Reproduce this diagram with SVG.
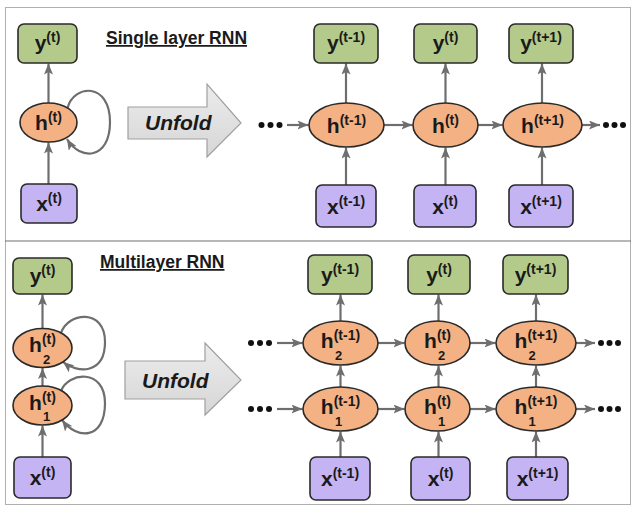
<svg xmlns="http://www.w3.org/2000/svg" width="641" height="514" viewBox="0 0 641 514">
<defs>
<marker id="ah" markerUnits="userSpaceOnUse" markerWidth="11" markerHeight="9" refX="11" refY="4.5" orient="auto">
<path d="M0,0 L11,4.5 L0,9 L2.5,4.5 z" fill="#6e6e6e"/>
</marker>
<linearGradient id="ug" x1="0" y1="0" x2="0" y2="1">
<stop offset="0" stop-color="#ececec"/>
<stop offset="1" stop-color="#d6d6d6"/>
</linearGradient>
</defs>
<style>
.by{fill:#b4ca8b;stroke:#2a2a2a;stroke-width:1.6}
.bx{fill:#c5b4f4;stroke:#2a2a2a;stroke-width:1.6}
.cell{fill:#f4b183;stroke:#2a2a2a;stroke-width:1.6}
.lbl{font-family:"Liberation Sans",Arial,sans-serif;font-weight:bold;font-size:21px;fill:#1a1a1a;text-anchor:middle}
.sup{font-size:14px}
.sub{font-family:"Liberation Sans",Arial,sans-serif;font-weight:bold;font-size:13px;fill:#1a1a1a}
.conn{stroke:#6e6e6e;stroke-width:2.2;fill:none;marker-end:url(#ah)}
.dot{fill:#111}
.title{font-family:"Liberation Sans",Arial,sans-serif;font-weight:bold;font-size:17.5px;fill:#1a1a1a;text-decoration:underline}
.unf{fill:url(#ug);stroke:#a0a0a0;stroke-width:1.2}
.unft{font-family:"Liberation Sans",Arial,sans-serif;font-weight:bold;font-style:italic;font-size:21px;fill:#1a1a1a}
</style>
<rect x="0" y="0" width="641" height="514" fill="#ffffff"/>
<rect x="5.5" y="7.5" width="625" height="497" fill="#ffffff" stroke="#b0b0b0" stroke-width="1"/>
<line x1="5" y1="241" x2="631" y2="241" stroke="#707070" stroke-width="1.2"/>

<!-- titles & unfold arrows -->
<text class="title" x="106" y="44">Single layer RNN</text>
<text class="title" x="100" y="268">Multilayer RNN</text>
<g id="unfold-top">
<polygon class="unf" points="128,107 207,107 207,84 241,123 207,157 207,139 128,139"/>
<text class="unft" x="145" y="130">Unfold</text>
</g>
<g id="unfold-bottom">
<polygon class="unf" points="125,361 205,361 205,343 241,380 205,415 205,399 125,399"/>
<text class="unft" x="142" y="388">Unfold</text>
</g>

<!-- connectors -->
<g id="connectors">
<!-- top left -->
<line class="conn" x1="48.5" y1="184" x2="48.5" y2="142.5"/>
<line class="conn" x1="48.5" y1="103" x2="48.5" y2="63.5"/>
<path class="conn" d="M67.5,108 C74,84 110,82 110,122 C110,160 80,161 67,139"/>
<!-- top right -->
<line class="conn" x1="346" y1="185" x2="346" y2="147.5"/>
<line class="conn" x1="346" y1="103" x2="346" y2="63.5"/>
<line class="conn" x1="445.5" y1="185" x2="445.5" y2="147.5"/>
<line class="conn" x1="445.5" y1="103" x2="445.5" y2="63.5"/>
<line class="conn" x1="542" y1="185" x2="542" y2="147.5"/>
<line class="conn" x1="542" y1="103" x2="542" y2="63.5"/>
<line class="conn" x1="287" y1="125" x2="308.5" y2="125"/>
<line class="conn" x1="384" y1="125" x2="412.5" y2="125"/>
<line class="conn" x1="478" y1="125" x2="502.5" y2="125"/>
<line class="conn" x1="582" y1="125" x2="600" y2="125"/>
<!-- bottom left -->
<line class="conn" x1="42.5" y1="457" x2="42.5" y2="425.5"/>
<line class="conn" x1="42.5" y1="386" x2="42.5" y2="368"/>
<line class="conn" x1="42.5" y1="328.5" x2="42.5" y2="294.5"/>
<path class="conn" d="M61,333 C68,312 105,308 105,342 C105,374 78,374 63,362"/>
<path class="conn" d="M61,391 C68,372 105,368 105,403 C105,440 77,440 62,420"/>
<!-- bottom right -->
<line class="conn" x1="340.5" y1="457" x2="340.5" y2="431.5"/>
<line class="conn" x1="340.5" y1="387" x2="340.5" y2="365.5"/>
<line class="conn" x1="340.5" y1="321" x2="340.5" y2="294.5"/>
<line class="conn" x1="438.5" y1="457" x2="438.5" y2="431.5"/>
<line class="conn" x1="438.5" y1="387" x2="438.5" y2="365.5"/>
<line class="conn" x1="438.5" y1="321" x2="438.5" y2="294.5"/>
<line class="conn" x1="536" y1="457" x2="536" y2="431.5"/>
<line class="conn" x1="536" y1="387" x2="536" y2="365.5"/>
<line class="conn" x1="536" y1="321" x2="536" y2="294.5"/>
<line class="conn" x1="277" y1="343" x2="302.5" y2="343"/>
<line class="conn" x1="378" y1="343" x2="404.5" y2="343"/>
<line class="conn" x1="470" y1="343" x2="495.5" y2="343"/>
<line class="conn" x1="576" y1="343" x2="595" y2="343"/>
<line class="conn" x1="277" y1="409" x2="302.5" y2="409"/>
<line class="conn" x1="378" y1="409" x2="404.5" y2="409"/>
<line class="conn" x1="470" y1="409" x2="495.5" y2="409"/>
<line class="conn" x1="576" y1="409" x2="595" y2="409"/>
</g>

<!-- dots -->
<g id="dots">
<circle class="dot" cx="261.5" cy="125" r="3"/><circle class="dot" cx="270.5" cy="125" r="3"/><circle class="dot" cx="279.5" cy="125" r="3"/>
<circle class="dot" cx="606" cy="125" r="3"/><circle class="dot" cx="614.5" cy="125" r="3"/><circle class="dot" cx="623" cy="125" r="3"/>
<circle class="dot" cx="251" cy="343" r="3"/><circle class="dot" cx="260" cy="343" r="3"/><circle class="dot" cx="269" cy="343" r="3"/>
<circle class="dot" cx="601" cy="343" r="3"/><circle class="dot" cx="609.5" cy="343" r="3"/><circle class="dot" cx="618" cy="343" r="3"/>
<circle class="dot" cx="251" cy="409" r="3"/><circle class="dot" cx="260" cy="409" r="3"/><circle class="dot" cx="269" cy="409" r="3"/>
<circle class="dot" cx="601" cy="409" r="3"/><circle class="dot" cx="609.5" cy="409" r="3"/><circle class="dot" cx="618" cy="409" r="3"/>
</g>

<!-- top left nodes -->
<g id="s-y"><rect class="by" x="18" y="24" width="59" height="39" rx="6"/><text class="lbl" x="47.5" y="50">y<tspan class="sup" dy="-8">(t)</tspan></text></g>
<g id="s-h"><ellipse class="cell" cx="48.5" cy="122.5" rx="28.5" ry="19.5"/><text class="lbl" x="48.5" y="130">h<tspan class="sup" dy="-8">(t)</tspan></text></g>
<g id="s-x"><rect class="bx" x="21" y="184" width="56" height="39" rx="6"/><text class="lbl" x="49" y="210.5">x<tspan class="sup" dy="-8">(t)</tspan></text></g>

<!-- top right nodes -->
<g id="u-y1"><rect class="by" x="314" y="24" width="64" height="39" rx="6"/><text class="lbl" x="346" y="50">y<tspan class="sup" dy="-8">(t-1)</tspan></text></g>
<g id="u-y2"><rect class="by" x="414" y="24" width="63" height="39" rx="6"/><text class="lbl" x="445.5" y="50">y<tspan class="sup" dy="-8">(t)</tspan></text></g>
<g id="u-y3"><rect class="by" x="509" y="24" width="64" height="39" rx="6"/><text class="lbl" x="541" y="50">y<tspan class="sup" dy="-8">(t+1)</tspan></text></g>
<g id="u-h1"><ellipse class="cell" cx="346.5" cy="125" rx="37.5" ry="22"/><text class="lbl" x="346.5" y="132.5">h<tspan class="sup" dy="-8">(t-1)</tspan></text></g>
<g id="u-h2"><ellipse class="cell" cx="445.5" cy="125" rx="32.5" ry="22"/><text class="lbl" x="445.5" y="132.5">h<tspan class="sup" dy="-8">(t)</tspan></text></g>
<g id="u-h3"><ellipse class="cell" cx="542.5" cy="125" rx="39.5" ry="22"/><text class="lbl" x="542.5" y="132.5">h<tspan class="sup" dy="-8">(t+1)</tspan></text></g>
<g id="u-x1"><rect class="bx" x="316" y="185" width="60" height="42" rx="6"/><text class="lbl" x="346" y="213.5">x<tspan class="sup" dy="-8">(t-1)</tspan></text></g>
<g id="u-x2"><rect class="bx" x="414" y="185" width="62" height="42" rx="6"/><text class="lbl" x="445" y="213.5">x<tspan class="sup" dy="-8">(t)</tspan></text></g>
<g id="u-x3"><rect class="bx" x="509" y="185" width="64" height="42" rx="6"/><text class="lbl" x="541" y="213.5">x<tspan class="sup" dy="-8">(t+1)</tspan></text></g>

<!-- bottom left nodes -->
<g id="m-y"><rect class="by" x="13" y="258" width="59" height="36" rx="6"/><text class="lbl" x="42.5" y="282.5">y<tspan class="sup" dy="-8">(t)</tspan></text></g>
<g id="m-h2"><ellipse class="cell" cx="42.5" cy="348" rx="29.5" ry="19.5"/><text class="lbl" x="42.5" y="352">h<tspan class="sup" dy="-8">(t)</tspan></text><text class="sub" x="43" y="363.5">2</text></g>
<g id="m-h1"><ellipse class="cell" cx="42.5" cy="405.5" rx="29.5" ry="19.5"/><text class="lbl" x="42.5" y="409.5">h<tspan class="sup" dy="-8">(t)</tspan></text><text class="sub" x="43" y="421">1</text></g>
<g id="m-x"><rect class="bx" x="14" y="457" width="57" height="41" rx="6"/><text class="lbl" x="42.5" y="484.5">x<tspan class="sup" dy="-8">(t)</tspan></text></g>

<!-- bottom right nodes -->
<g id="mu-y1"><rect class="by" x="308" y="255" width="64" height="39" rx="6"/><text class="lbl" x="340" y="281.5">y<tspan class="sup" dy="-8">(t-1)</tspan></text></g>
<g id="mu-y2"><rect class="by" x="408" y="255" width="62" height="39" rx="6"/><text class="lbl" x="439" y="281.5">y<tspan class="sup" dy="-8">(t)</tspan></text></g>
<g id="mu-y3"><rect class="by" x="503" y="255" width="65" height="39" rx="6"/><text class="lbl" x="535.5" y="281.5">y<tspan class="sup" dy="-8">(t+1)</tspan></text></g>
<g id="mu-h21"><ellipse class="cell" cx="340.5" cy="343" rx="37.5" ry="22"/><text class="lbl" x="340.5" y="348">h<tspan class="sup" dy="-8">(t-1)</tspan></text><text class="sub" x="335" y="359.5">2</text></g>
<g id="mu-h22"><ellipse class="cell" cx="437.5" cy="343" rx="32.5" ry="22"/><text class="lbl" x="437.5" y="348">h<tspan class="sup" dy="-8">(t)</tspan></text><text class="sub" x="438" y="359.5">2</text></g>
<g id="mu-h23"><ellipse class="cell" cx="536" cy="343" rx="40" ry="22"/><text class="lbl" x="536" y="348">h<tspan class="sup" dy="-8">(t+1)</tspan></text><text class="sub" x="528.5" y="359.5">2</text></g>
<g id="mu-h11"><ellipse class="cell" cx="340.5" cy="409" rx="37.5" ry="22"/><text class="lbl" x="340.5" y="414">h<tspan class="sup" dy="-8">(t-1)</tspan></text><text class="sub" x="335" y="425.5">1</text></g>
<g id="mu-h12"><ellipse class="cell" cx="437.5" cy="409" rx="32.5" ry="22"/><text class="lbl" x="437.5" y="414">h<tspan class="sup" dy="-8">(t)</tspan></text><text class="sub" x="438" y="425.5">1</text></g>
<g id="mu-h13"><ellipse class="cell" cx="536" cy="409" rx="40" ry="22"/><text class="lbl" x="536" y="414">h<tspan class="sup" dy="-8">(t+1)</tspan></text><text class="sub" x="528.5" y="425.5">1</text></g>
<g id="mu-x1"><rect class="bx" x="310" y="457" width="60" height="43" rx="6"/><text class="lbl" x="340" y="485.5">x<tspan class="sup" dy="-8">(t-1)</tspan></text></g>
<g id="mu-x2"><rect class="bx" x="411" y="457" width="59" height="43" rx="6"/><text class="lbl" x="440.5" y="485.5">x<tspan class="sup" dy="-8">(t)</tspan></text></g>
<g id="mu-x3"><rect class="bx" x="507" y="457" width="61" height="43" rx="6"/><text class="lbl" x="537.5" y="485.5">x<tspan class="sup" dy="-8">(t+1)</tspan></text></g>
</svg>
